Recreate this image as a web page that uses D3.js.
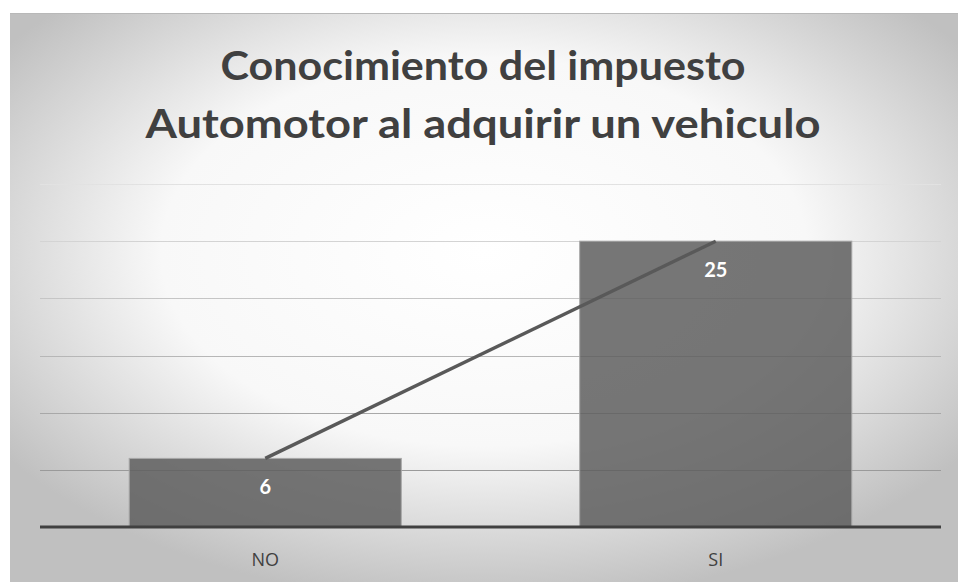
<!DOCTYPE html>
<html>
<head>
<meta charset="utf-8">
<script src="https://cdn.jsdelivr.net/npm/d3@7"></script>
<style>
  body { margin: 0; background: #fff; }
  svg { display: block; }
</style>
</head>
<body>
<svg width="958" height="582"></svg>
<script>
// data
const categories = ["NO", "SI"];
const values = [6, 25];
const yTicks = [0, 5, 10, 15, 20, 25, 30];
const titleLines = ["Conocimiento del impuesto", "Automotor al adquirir un vehiculo"];

var svg = d3.select("svg"),
    width = +svg.attr("width"),
    height = +svg.attr("height");

var plot = { left: 40, right: 941, top: 184, bottom: 527 };

var defs = svg.append("defs");

var bg = defs.append("radialGradient")
    .attr("id", "bg")
    .attr("cx", "50%").attr("cy", "42%").attr("r", "62%");
bg.append("stop").attr("offset", "0%").attr("stop-color", "#ffffff");
bg.append("stop").attr("offset", "55%").attr("stop-color", "#f8f8f8");
bg.append("stop").attr("offset", "100%").attr("stop-color", "#c0c0c0");

var gridGrad = defs.append("linearGradient")
    .attr("id", "grid")
    .attr("gradientUnits", "userSpaceOnUse")
    .attr("x1", 0).attr("x2", 0).attr("y1", plot.top).attr("y2", 470);
gridGrad.append("stop").attr("offset", "0%").attr("stop-color", "#e2e2e2");
gridGrad.append("stop").attr("offset", "100%").attr("stop-color", "#9a9a9a");

// chart frame
svg.append("rect")
    .attr("x", 10).attr("y", 13)
    .attr("width", width - 10).attr("height", height - 13)
    .attr("fill", "url(#bg)");
svg.append("line")
    .attr("x1", 10).attr("x2", width)
    .attr("y1", 13.5).attr("y2", 13.5)
    .attr("stroke", "#b8b8b8");

var x = d3.scaleBand()
    .domain(categories)
    .range([plot.left, plot.right])
    .paddingInner(0.396)
    .paddingOuter(0.198);

var y = d3.scaleLinear()
    .domain([0, 30])
    .range([plot.bottom, plot.top]);

// gridlines
svg.append("g")
  .selectAll("line")
  .data(yTicks.filter(function(d) { return d > 0; }))
  .join("line")
    .attr("x1", plot.left).attr("x2", plot.right)
    .attr("y1", function(d) { return Math.round(y(d)) + 0.5; })
    .attr("y2", function(d) { return Math.round(y(d)) + 0.5; })
    .attr("stroke", "url(#grid)")
    .attr("stroke-width", 1.2);

// bars
svg.append("g")
  .selectAll("rect")
  .data(values)
  .join("rect")
    .attr("x", function(d, i) { return x(categories[i]); })
    .attr("y", function(d) { return y(d); })
    .attr("width", x.bandwidth())
    .attr("height", function(d) { return y(0) - y(d); })
    .attr("fill", "#5e5e5e")
    .attr("fill-opacity", 0.85)
    .attr("stroke", "#a8a8a8")
    .attr("stroke-width", 1);

// line series joining bar tops
var line = d3.line()
    .x(function(d, i) { return x(categories[i]) + x.bandwidth() / 2; })
    .y(function(d) { return y(d); });

svg.append("path")
    .datum(values)
    .attr("d", line)
    .attr("fill", "none")
    .attr("stroke", "#595959")
    .attr("stroke-width", 3.4);

// data labels
svg.append("g")
  .selectAll("text")
  .data(values)
  .join("text")
    .attr("x", function(d, i) { return x(categories[i]) + x.bandwidth() / 2; })
    .attr("y", function(d) { return y(d) + 36; })
    .attr("text-anchor", "middle")
    .attr("font-family", "Lato, 'Open Sans', sans-serif")
    .attr("font-weight", "bold")
    .attr("font-size", 20)
    .attr("fill", "#ffffff")
    .text(function(d) { return d; });

// x axis
var xAxis = svg.append("g")
    .attr("transform", "translate(0," + plot.bottom + ")")
    .call(d3.axisBottom(x).tickSize(0).tickPadding(26));
xAxis.select(".domain")
    .attr("d", "M" + plot.left + ",0H" + plot.right)
    .attr("stroke", "#404040")
    .attr("stroke-width", 3);
xAxis.selectAll("text")
    .attr("font-family", "'Open Sans', sans-serif")
    .attr("font-size", 18)
    .attr("fill", "#404040");

// title
var titleWidths = [525, 675];
svg.append("g")
  .selectAll("text")
  .data(titleLines)
  .join("text")
    .attr("x", 483)
    .attr("y", function(d, i) { return 80 + i * 58; })
    .attr("text-anchor", "middle")
    .attr("font-family", "Lato, 'Open Sans', sans-serif")
    .attr("font-weight", "bold")
    .attr("font-size", 41)
    .attr("textLength", function(d, i) { return titleWidths[i]; })
    .attr("lengthAdjust", "spacingAndGlyphs")
    .attr("fill", "#404040")
    .text(function(d) { return d; });
</script>
</body>
</html>
